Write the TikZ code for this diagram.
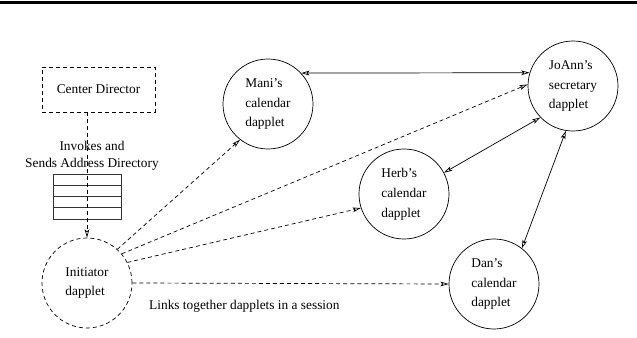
\documentclass[tikz,border=0pt]{standalone}
\usepackage{fontspec}
\setmainfont{Liberation Serif}
\usetikzlibrary{arrows.meta}

\begin{document}
\begin{tikzpicture}[x=0.03cm, y=-0.03cm,
    font=\fontsize{11.4}{14.5}\selectfont,
    dapplet/.style={circle, draw, line width=0.6pt, minimum size=2.7cm,
        inner sep=0pt, align=left, font=\fontsize{11.4}{17}\selectfont},
    dashline/.style={line width=0.6pt, dash pattern=on 3.4pt off 2.6pt},
    link/.style={line width=0.6pt, {Stealth[open,inset=1.5pt,length=7pt,width=4pt]}-{Stealth[open,inset=1.5pt,length=7pt,width=4pt]}},
    invoke/.style={dashline, -{Stealth[open,inset=1.5pt,length=7pt,width=4pt]}}]
    \useasboundingbox (0,0) rectangle (637,338);
    \draw[line width=2.5pt] (0,2.5) -- (637,2.5);

    % left side
    \node[draw, dashline, minimum width=3.39cm, minimum height=1.35cm] (cd) at (98.5,89.5) {Center Director};
    \node[dapplet, dashline] (ini) at (87,283) {Initiator\\dapplet};
    \node[align=center, inner sep=0pt] (invlabel) at (92,156) {Invokes and\\Sends Address Directory};
    \foreach \i in {0,...,3}
        \draw[line width=0.8pt, black!80] (53,174+11.25*\i) rectangle ++(68,11.25);
    \draw[invoke] (cd.south -| ini.north) -- (ini.north);

    % dapplets
    \node[dapplet] (mani) at (268,104) {Mani's\\calendar\\dapplet};
    \node[dapplet] (joann) at (573,86) {JoAnn's\\secretary\\dapplet};
    \node[dapplet] (herb) at (404,194) {Herb's\\calendar\\dapplet};
    \node[dapplet] (dan) at (494,284) {Dan's\\calendar\\dapplet};

    \draw[link] (mani.43) -- (joann.163);
    \draw[link] (herb.28) -- (joann.224);
    \draw[link] (dan.52) -- (joann.261);

    \draw[invoke] (ini.48) -- (mani.232);
    \draw[invoke] (ini.40) -- (joann.178);
    \draw[invoke] (ini.27) -- (herb.198);
    \draw[invoke] (ini.0) -- (dan.180);

    \node[anchor=west, inner sep=0pt] (session) at (149,306) {Links together dapplets in a session};
\end{tikzpicture}
\end{document}
